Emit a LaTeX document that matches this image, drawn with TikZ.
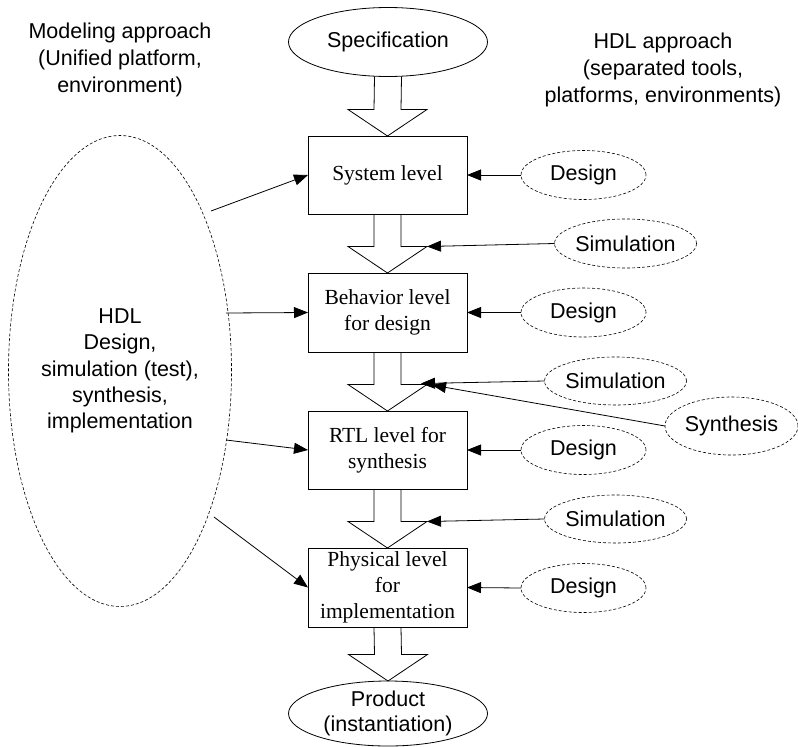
\documentclass[tikz,border=0pt]{standalone}
\usepackage{fontspec}
\setmainfont{Liberation Serif}
\setsansfont{Liberation Sans}
\usetikzlibrary{shapes.geometric,arrows.meta,calc}

% hollow block arrow between two stages; also names the right corner of its head
\newcommand{\stagearrow}[2]{%
  \draw[flow] ($(#1.south)+(-13.5,0)$) -- ($(#2.north)+(-13.5,-26.5)$)
    -- ($(#2.north)+(-39.5,-26.5)$) -- (#2.north)
    -- ($(#2.north)+(39.5,-26.5)$) -- ($(#2.north)+(13.5,-26.5)$)
    -- ($(#1.south)+(13.5,0)$);
  \coordinate (#2-hd) at ($(#2.north)+(39.5,-26.5)$);}

\begin{document}
\begin{tikzpicture}[x=1pt,y=-1pt,
  every node/.style={inner sep=0pt, outer sep=0pt},
  levelbox/.style={draw, line width=0.8pt, minimum width=159pt, align=center,
    font=\fontsize{21.5}{26}\selectfont},
  endoval/.style={draw, ellipse, line width=0.8pt, minimum width=199pt, align=center,
    font=\sffamily\fontsize{21.5}{25}\selectfont},
  tooloval/.style={draw, ellipse, dash pattern=on 3pt off 2pt, line width=0.6pt,
    minimum height=49pt, font=\sffamily\fontsize{21.5}{25}\selectfont},
  note/.style={align=center, font=\sffamily\fontsize{21.5}{27}\selectfont},
  link/.style={line width=0.8pt, -{Triangle[length=14pt,width=11pt]}},
  flow/.style={line width=0.8pt, line join=miter},
]
\useasboundingbox (0,0) rectangle (798,747);

% headings
\node[note] (model) at (120,60) {Modeling approach\\(Unified platform,\\environment)};
\node[note] (hdlapp) at (663,70) {HDL approach\\(separated tools,\\platforms, environments)};

% main flow
\node[endoval, minimum height=69pt] (spec) at (388,42) {Specification};
\node[levelbox, minimum height=78pt] (sys) at (387.5,175) {System level};
\node[levelbox, minimum height=79pt] (beh) at (387.5,312.5) {Behavior level\\for design};
\node[levelbox, minimum height=78pt] (rtl) at (387.5,450) {RTL level for\\synthesis};
\node[levelbox, minimum height=79pt] (phy) at (387.5,587.5) {Physical level\\for\\implementation};
\node[endoval, minimum height=65pt] (prod) at (388,713.5) {Product\\(instantiation)};

\stagearrow{spec}{sys}
\stagearrow{sys}{beh}
\stagearrow{beh}{rtl}
\stagearrow{rtl}{phy}
\stagearrow{phy}{prod}

% unified modeling side
\node[draw, ellipse, dash pattern=on 3pt off 2pt, line width=0.6pt,
  minimum width=218pt, minimum height=471pt, align=center,
  font=\sffamily\fontsize{21.5}{26.3}\selectfont] (hdl) at (120,371)
  {HDL\\Design,\\simulation (test),\\synthesis,\\implementation};

\coordinate (h1) at (211,211);
\coordinate (h2) at (226,313);
\coordinate (h3) at (226,440);
\coordinate (h4) at (214,517);
\draw[link] (h1) -- (sys.west);
\draw[link] (h2) -- (beh.west);
\draw[link] (h3) -- (rtl.west);
\draw[link] (h4) -- (phy.west);

% separate tools side
\node[tooloval, minimum width=125pt] (des1) at (583.5,175) {Design};
\node[tooloval, minimum width=125pt] (des2) at (583.5,312.5) {Design};
\node[tooloval, minimum width=125pt] (des3) at (583.5,450) {Design};
\node[tooloval, minimum width=125pt] (des4) at (583.5,588) {Design};
\node[tooloval, minimum width=139pt] (sim1) at (625.5,243.5) {Simulation};
\node[tooloval, minimum width=137pt, minimum height=48pt] (sim2) at (615.5,381) {Simulation};
\node[tooloval, minimum width=137pt, minimum height=48pt] (sim3) at (615.5,519) {Simulation};
\node[tooloval, minimum width=133pt, minimum height=58pt] (syn) at (731.5,426) {Synthesis};

\draw[link] (des1.west) -- (sys.east);
\draw[link] (des2.west) -- (beh.east);
\draw[link] (des3.west) -- (rtl.east);
\draw[link] (des4.west) -- (phy.east);

\coordinate (t2a) at (421,383.5);
\coordinate (t2b) at (432,385);
\draw[link] (sim1.west) -- (beh-hd);
\draw[link] (sim2.west) -- (t2a);
\draw[link] (syn.west) -- (t2b);
\draw[link] (sim3.west) -- (phy-hd);
\end{tikzpicture}
\end{document}
